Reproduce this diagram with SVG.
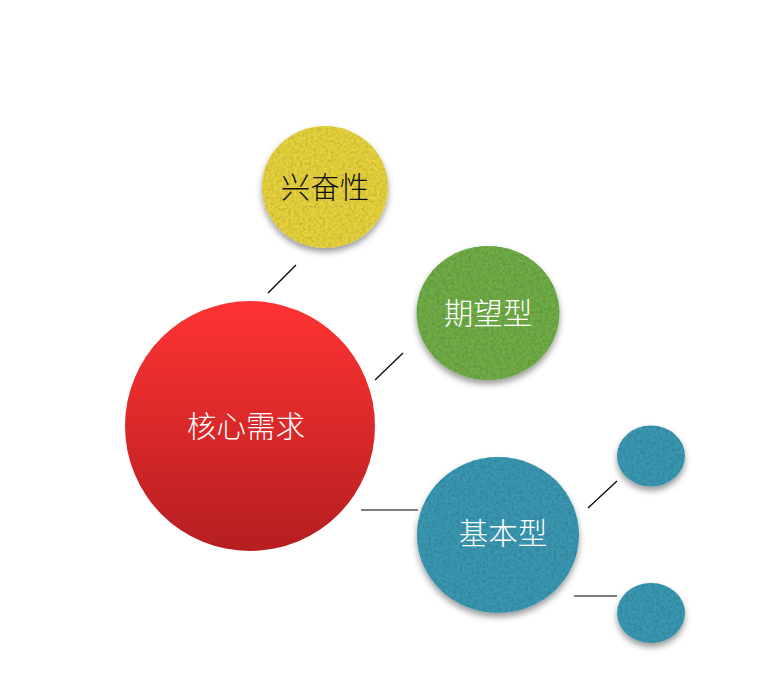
<svg xmlns="http://www.w3.org/2000/svg" width="780" height="696" viewBox="0 0 780 696">
<style>
.lbl{font-family:"Noto Sans CJK SC","Noto Sans",sans-serif;font-size:29.5px;font-weight:300;text-anchor:middle;dominant-baseline:central}
.w{fill:#ffffff}
.k{fill:#111111}
.conn line{stroke:#000;stroke-width:1.2}
</style>
<defs>
<linearGradient id="redG" x1="0" y1="0" x2="0" y2="1">
<stop offset="0" stop-color="#FF3333"/>
<stop offset="1" stop-color="#B51E21"/>
</linearGradient>
<filter id="tex" x="-20%" y="-20%" width="140%" height="150%">
<feTurbulence type="fractalNoise" baseFrequency="0.35" numOctaves="2" seed="4" result="noise"/>
<feColorMatrix in="noise" type="matrix" values="0 0 0 0 0  0 0 0 0 0  0 0 0 0 0  0.6 0 0 0 -0.22" result="dark"/>
<feComposite in="dark" in2="SourceAlpha" operator="in" result="darkIn"/>
<feGaussianBlur in="SourceAlpha" stdDeviation="3" result="blur"/>
<feOffset in="blur" dy="4" result="off"/>
<feFlood flood-color="#000" flood-opacity="0.4"/>
<feComposite in2="off" operator="in" result="shadow"/>
<feMerge><feMergeNode in="shadow"/><feMergeNode in="SourceGraphic"/><feMergeNode in="darkIn"/></feMerge>
</filter>
</defs>
<rect width="780" height="696" fill="#ffffff"/>
<g id="connectors" class="conn">
<line x1="268" y1="293" x2="296" y2="265"/>
<line x1="375" y1="380" x2="403" y2="353"/>
<line x1="361" y1="510" x2="418" y2="510"/>
<line x1="588" y1="508" x2="617" y2="481"/>
<line x1="574" y1="596" x2="617" y2="596"/>
</g>
<g id="node-core">
<circle cx="250" cy="426" r="125" fill="url(#redG)"/>
<text class="lbl w" x="246" y="424">核心需求</text>
</g>
<g id="node-excite">
<ellipse cx="325" cy="187" rx="63" ry="61" fill="#E6D23E" filter="url(#tex)"/>
<text class="lbl k" x="325" y="185">兴奋性</text>
</g>
<g id="node-expect">
<ellipse cx="488" cy="313" rx="71.5" ry="67" fill="#6FAC47" filter="url(#tex)"/>
<text class="lbl w" x="488" y="311">期望型</text>
</g>
<g id="node-basic">
<ellipse cx="498" cy="535" rx="81" ry="78" fill="#3A97B1" filter="url(#tex)"/>
<text class="lbl w" x="503" y="531">基本型</text>
</g>
<g id="node-small1">
<ellipse cx="651" cy="456" rx="34" ry="30.5" fill="#3A97B1" filter="url(#tex)"/>
</g>
<g id="node-small2">
<ellipse cx="651" cy="613" rx="34" ry="30" fill="#3A97B1" filter="url(#tex)"/>
</g>
</svg>
